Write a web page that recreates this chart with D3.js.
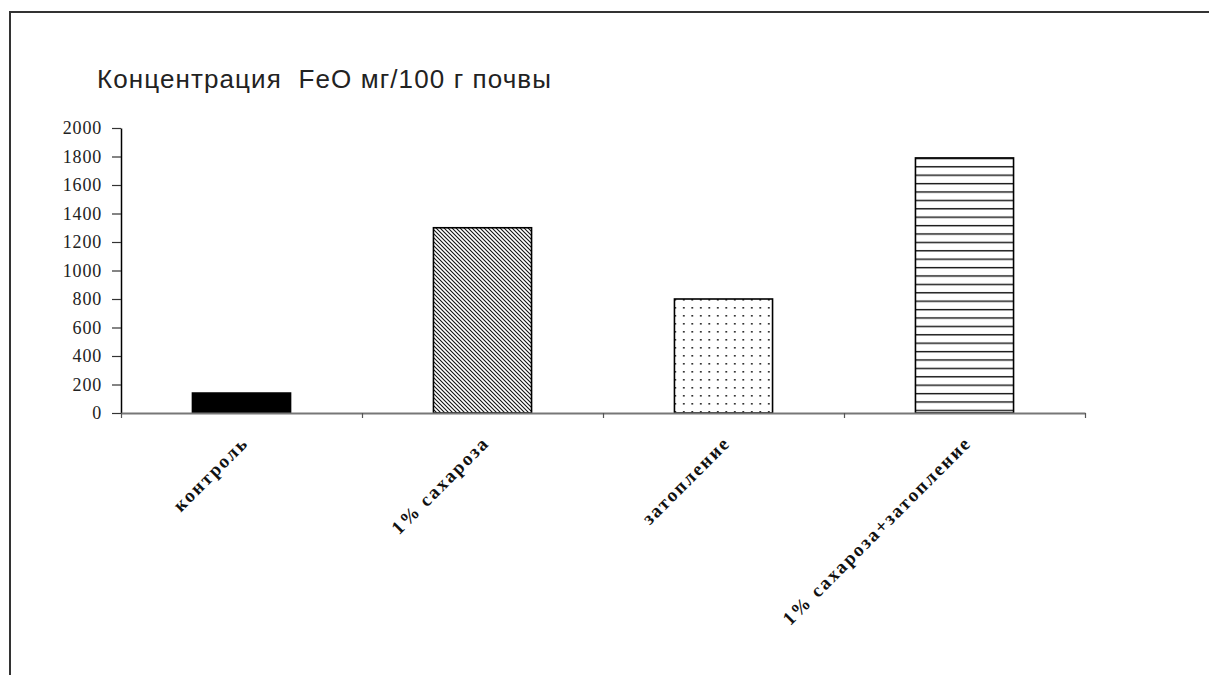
<!DOCTYPE html>
<html><head><meta charset="utf-8">
<script src="https://cdn.jsdelivr.net/npm/d3@7/dist/d3.min.js"></script>
<style>
html,body{margin:0;padding:0;background:#fff;}
svg{display:block;}
</style></head>
<body>
<svg id="chart" width="1209" height="675"></svg>
<script>
const categories = ["контроль", "1% сахароза", "затопление", "1% сахароза+затопление"];
const values = [140, 1300, 800, 1790];
const yTicks = [0, 200, 400, 600, 800, 1000, 1200, 1400, 1600, 1800, 2000];
const patterns = ["solid", "diag", "dots", "hlines"];
const title = "Концентрация  FeO мг/100 г почвы";

const svg = d3.select("#chart");
const W = 1209, H = 675;
const m = {left: 121, right: 1085, top: 128, bottom: 413};

// frame
svg.append("path")
  .attr("d", `M10,${H} L10,12 L${W},12`)
  .attr("fill", "none").attr("stroke", "#333").attr("stroke-width", 2);

const defs = svg.append("defs");
const pd = defs.append("pattern").attr("id", "p-diag").attr("patternUnits", "userSpaceOnUse")
  .attr("width", 4).attr("height", 4);
pd.append("rect").attr("width", 4).attr("height", 4).attr("fill", "#fff");
pd.append("path").attr("d", "M-1,-1 L5,5 M-1,3 L1,5 M3,-1 L5,1").attr("stroke", "#111").attr("stroke-width", 1.1);

const pdot = defs.append("pattern").attr("id", "p-dots").attr("patternUnits", "userSpaceOnUse")
  .attr("width", 8.5).attr("height", 8);
pdot.append("rect").attr("width", 8.5).attr("height", 8).attr("fill", "#fff");
pdot.append("rect").attr("x", 3).attr("y", 3).attr("width", 1.6).attr("height", 1.6).attr("fill", "#111");

const ph = defs.append("pattern").attr("id", "p-hlines").attr("patternUnits", "userSpaceOnUse")
  .attr("width", 10).attr("height", 8.4);
ph.append("rect").attr("width", 10).attr("height", 8.4).attr("fill", "#fff");
ph.append("rect").attr("x", 0).attr("y", 6.5).attr("width", 10).attr("height", 1.4).attr("fill", "#111");

const fillFor = p => p === "solid" ? "#000" : `url(#p-${p})`;

const y = d3.scaleLinear().domain([0, 2000]).range([m.bottom, m.top]);
const x = d3.scaleBand().domain(categories).range([m.left, m.right])
  .paddingInner(0.593).paddingOuter(0.2965);
const xb = d3.scaleLinear().domain([0, categories.length]).range([m.left, m.right]);

// title
svg.append("text").attr("x", 97).attr("y", 88)
  .attr("font-family", "Liberation Sans, Arial, sans-serif").attr("font-size", 26)
  .attr("letter-spacing", 1.1)
  .attr("fill", "#222").style("white-space", "pre").attr("xml:space", "preserve").text(title);

// bars
svg.append("g").selectAll("rect").data(categories).join("rect")
  .attr("x", d => x(d)).attr("width", x.bandwidth())
  .attr("y", (d, i) => y(values[i])).attr("height", (d, i) => y(0) - y(values[i]))
  .attr("fill", (d, i) => fillFor(patterns[i]))
  .attr("stroke", "#000").attr("stroke-width", 1.6);

// y axis
const ya = svg.append("g").attr("transform", `translate(${m.left},0)`)
  .call(d3.axisLeft(y).tickValues(yTicks).tickFormat(d3.format("d"))
    .tickSize(9).tickSizeOuter(0).tickPadding(10));
ya.select(".domain").attr("stroke", "#000").attr("stroke-width", 1.5);
ya.selectAll(".tick line").attr("stroke", "#333").attr("stroke-width", 1.2);
ya.selectAll(".tick text").attr("font-family", "Liberation Serif, Times New Roman, serif")
  .attr("font-size", 18).attr("fill", "#222").attr("letter-spacing", 0.8);

// x axis
const xa = svg.append("g").attr("transform", `translate(0,${m.bottom})`)
  .call(d3.axisBottom(xb).tickValues(d3.range(0, categories.length + 1)).tickSize(5).tickSizeOuter(0).tickFormat(""));
xa.select(".domain").attr("stroke", "#777").attr("stroke-width", 2);
xa.selectAll(".tick line").attr("stroke", "#555").attr("stroke-width", 1.2);

// x labels
svg.append("g").selectAll("text").data(categories).join("text")
  .attr("transform", d => `translate(${x(d) + x.bandwidth() / 2 + 8},${m.bottom + 31}) rotate(-45)`)
  .attr("text-anchor", "end")
  .attr("font-family", "Liberation Serif, Times New Roman, serif")
  .attr("font-weight", "bold").attr("font-size", 19).attr("letter-spacing", 2)
  .attr("fill", "#111").text(d => d);
</script>
</body></html>
